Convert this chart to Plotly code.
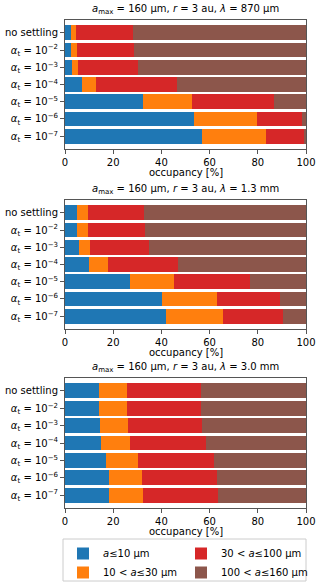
import plotly.graph_objects as go

W, H = 319, 585

rows = ["no settling", "α_t=1e-2", "α_t=1e-3", "α_t=1e-4", "α_t=1e-5", "α_t=1e-6", "α_t=1e-7"]
row_labels = ["no settling"] + [f"<i>α</i><sub>t</sub> = 10<sup>−{k}</sup>" for k in range(2, 8)]

bins = ["<i>a</i>≤10 μm", "10 < <i>a</i>≤30 μm", "30 < <i>a</i>≤100 μm", "100 < <i>a</i>≤160 μm"]
colors = ["#1f77b4", "#ff7f0e", "#d62728", "#8c564b"]

titles = [
    "<i>a</i><sub>max</sub> = 160 μm, <i>r</i> = 3 au, <i>λ</i> = 870 μm",
    "<i>a</i><sub>max</sub> = 160 μm, <i>r</i> = 3 au, <i>λ</i> = 1.3 mm",
    "<i>a</i><sub>max</sub> = 160 μm, <i>r</i> = 3 au, <i>λ</i> = 3.0 mm",
]
x_label = "occupancy [%]"

# occupancy [%] per size bin, rows ordered as in `rows`
p870_a10 = [2.5, 2.5, 2.9, 7.2, 32.5, 53.5, 57.0]
p870_a30 = [2.1, 2.3, 2.6, 5.8, 20.2, 26.2, 26.5]
p870_a100 = [23.8, 23.7, 24.9, 33.6, 34.2, 18.5, 15.5]
p870_a160 = [71.6, 71.5, 69.6, 53.4, 13.1, 1.8, 1.0]

p13_a10 = [5.1, 5.1, 5.7, 10.0, 27.1, 40.1, 41.9]
p13_a30 = [4.3, 4.4, 4.7, 7.7, 18.0, 23.1, 23.7]
p13_a100 = [23.5, 23.7, 24.5, 29.2, 31.5, 26.1, 25.0]
p13_a160 = [67.1, 66.8, 65.1, 53.1, 23.4, 10.7, 9.4]

p30_a10 = [14.2, 14.2, 14.5, 15.1, 17.2, 18.3, 18.4]
p30_a30 = [11.5, 11.5, 11.5, 12.0, 13.1, 13.6, 14.0]
p30_a100 = [30.9, 30.9, 30.8, 31.3, 31.4, 31.3, 31.1]
p30_a160 = [43.4, 43.4, 43.2, 41.6, 38.3, 36.8, 36.5]

panels = [
    [p870_a10, p870_a30, p870_a100, p870_a160],
    [p13_a10, p13_a30, p13_a100, p13_a160],
    [p30_a10, p30_a30, p30_a100, p30_a160],
]

x_ticks = [0, 20, 40, 60, 80, 100]

# pixel geometry
x0, x1 = 65, 306
panel_px = [(20, 149), (200, 329), (378, 508)]

FONT = "DejaVu Sans"
fig = go.Figure()
legend_of_bin = ["legend", "legend", "legend2", "legend2"]

for pi, series in enumerate(panels):
    xa = "x" if pi == 0 else f"x{pi+1}"
    ya = "y" if pi == 0 else f"y{pi+1}"
    for bi, vals in enumerate(series):
        fig.add_trace(go.Bar(
            x=vals, y=list(range(len(rows))), orientation="h",
            marker=dict(color=colors[bi], line=dict(width=0)),
            name=bins[bi], showlegend=(pi == 0), legend=legend_of_bin[bi],
            xaxis=xa, yaxis=ya, hoverinfo="skip",
        ))
    top, bot = panel_px[pi]
    dom_y = [1 - bot / H, 1 - top / H]
    axis_common = dict(showline=True, linecolor="#555", linewidth=1, mirror=True,
                       ticks="outside", ticklen=4, tickcolor="#555", showgrid=False,
                       zeroline=False, automargin=False,
                       tickfont=dict(family=FONT, size=10, color="black"))
    fig.layout[f"xaxis{'' if pi == 0 else pi+1}"] = dict(
        domain=[x0 / W, x1 / W], anchor=ya, range=[0, 100],
        tickvals=x_ticks, ticktext=[str(t) for t in x_ticks], **axis_common)
    fig.layout[f"yaxis{'' if pi == 0 else pi+1}"] = dict(
        domain=dom_y, anchor=xa, range=[6.74, -0.74],
        tickvals=list(range(len(rows))), ticktext=row_labels, **axis_common)
    fig.add_annotation(text=titles[pi], xref="paper", yref="paper",
                       x=(x0 + x1) / 2 / W, y=1 - (top - 2) / H, xanchor="center", yanchor="bottom",
                       showarrow=False, font=dict(family=FONT, size=10, color="black"))
    fig.add_annotation(text=x_label, xref="paper", yref="paper",
                       x=(x0 + x1) / 2 / W, y=1 - (bot + 23) / H, xanchor="center", yanchor="middle",
                       showarrow=False, font=dict(family=FONT, size=10, color="black"))

# legend frame
fig.add_shape(type="rect", xref="paper", yref="paper",
              x0=63 / W, x1=306 / W, y0=1 - 581 / H, y1=1 - 539 / H,
              line=dict(color="#cccccc", width=1), fillcolor="rgba(255,255,255,0)", layer="below")

leg_common = dict(orientation="v", yanchor="top", xanchor="left", bgcolor="rgba(0,0,0,0)",
                  borderwidth=0, font=dict(family=FONT, size=10, color="black"),
                  traceorder="normal", itemwidth=30)
fig.update_layout(
    width=W, height=H, barmode="stack", bargap=0.15,
    margin=dict(l=0, r=0, t=0, b=0, autoexpand=False),
    plot_bgcolor="white", paper_bgcolor="white",
    font=dict(family=FONT, size=10, color="black"),
    legend=dict(x=63 / W, y=1 - 539 / H, **leg_common),
    legend2=dict(x=181 / W, y=1 - 539 / H, **leg_common),
)

fig.write_html("out.html", config={"displayModeBar": False},
               post_script="document.body.style.margin='0';document.body.style.overflow='hidden';")
